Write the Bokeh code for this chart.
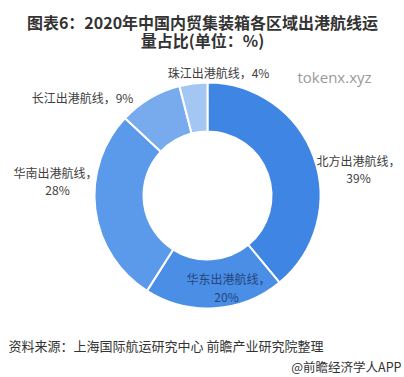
import math
from bokeh.plotting import figure
from bokeh.models import Range1d, ColumnDataSource
from bokeh.core.properties import value
from bokeh.embed import file_html
from bokeh.resources import INLINE

# ---- data ----
categories = ["北方出港航线", "华东出港航线", "华南出港航线", "长江出港航线", "珠江出港航线"]
shares = [39, 20, 28, 9, 4]
colors = ["#3f85e3", "#4a8ee6", "#5b9aea", "#77abee", "#a3c6f3"]
title_lines = ["图表6：2020年中国内贸集装箱各区域出港航线运", "量占比(单位：%)"]
source_text = "资料来源：上海国际航运研究中心 前瞻产业研究院整理"
brand_text = "@前瞻经济学人APP"
watermark = "tokenx.xyz"

W, H = 404, 377
FONT = "Noto Sans CJK SC"

p = figure(width=W, height=H, output_backend="svg", toolbar_location=None,
           x_range=Range1d(0, W), y_range=Range1d(0, H), min_border=0)
p.axis.visible = False
p.grid.visible = False
p.outline_line_color = None
p.background_fill_color = "white"

def Y(v):
    return H - v

# donut geometry (pixels)
cx, cy = 207, 195
r_out, r_in = 113, 64

total = sum(shares)
starts, ends = [], []
acc = 0.0
for s in shares:
    a0 = math.pi / 2 - 2 * math.pi * acc / total
    acc += s
    a1 = math.pi / 2 - 2 * math.pi * acc / total
    starts.append(a0)
    ends.append(a1)

src = ColumnDataSource(dict(x=[cx] * len(shares), y=[Y(cy)] * len(shares),
                            start=starts, end=ends, color=colors))
p.annular_wedge(x="x", y="y", inner_radius=r_in, outer_radius=r_out,
                start_angle="start", end_angle="end", direction="clock",
                fill_color="color", line_color="white", line_width=2, source=src)

# labels (positions in pixels)
label_pos = {
    "北方出港航线": [(358, 160), (358, 177)],
    "华东出港航线": [(228, 278), (226, 296)],
    "华南出港航线": [(55, 172), (57, 189)],
    "长江出港航线": [(82, 97)],
    "珠江出港航线": [(218, 72)],
}
label_color = {"华东出港航线": "#24467a"}
for cat, val in zip(categories, shares):
    pos = label_pos[cat]
    col = label_color.get(cat, "#404040")
    if len(pos) == 1:
        texts = [f"{cat}，{val}%"]
    else:
        texts = [f"{cat}，", f"{val}%"]
    for (tx, ty), t in zip(pos, texts):
        p.text(x=[tx], y=[Y(ty)], text=[t], text_font=value(FONT), text_font_size="12px",
               text_color=col, text_align="center", text_baseline="middle")

# title
for i, line in enumerate(title_lines):
    p.text(x=[202], y=[Y(21 + 18 * i)], text=[line], text_font=value(FONT),
           text_font_size="16px", text_font_style="bold", text_color="#333333",
           text_align="center", text_baseline="middle")

# watermark
p.text(x=[334], y=[Y(76)], text=[watermark], text_font=value("Open Sans"),
       text_font_size="15px", text_color="#9a9a9a", text_align="center",
       text_baseline="middle")

# source & brand
p.text(x=[8], y=[Y(345)], text=[source_text], text_font=value(FONT),
       text_font_size="13px", text_color="#333333", text_align="left",
       text_baseline="middle")
p.text(x=[401], y=[Y(366)], text=[brand_text], text_font=value(FONT),
       text_font_size="12.5px", text_color="#333333", text_align="right",
       text_baseline="middle")

open("out.html", "w").write(file_html(p, INLINE))
